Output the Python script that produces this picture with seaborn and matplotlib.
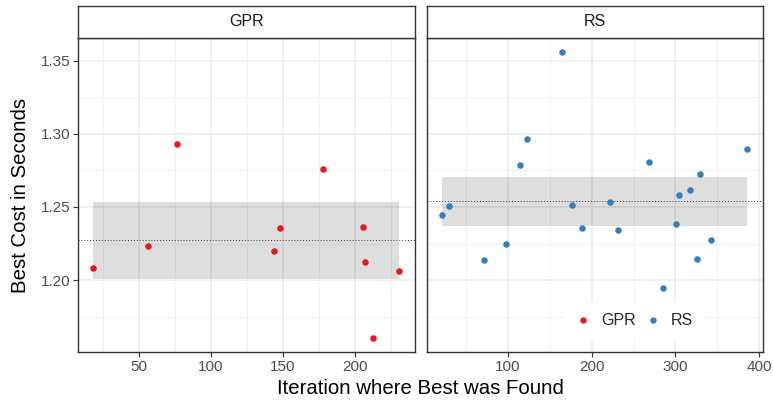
import numpy as np
import pandas as pd
import seaborn as sns
import matplotlib
matplotlib.use("Agg")
import matplotlib.pyplot as plt
from matplotlib.lines import Line2D
from matplotlib.ticker import MultipleLocator

# ---- data ----
gpr_iter = [18, 56, 76, 144, 148, 178, 206, 207, 213, 231]
gpr_cost = [1.2084, 1.2233, 1.2932, 1.2201, 1.2354, 1.2756, 1.2361, 1.2121, 1.1607, 1.2066]
rs_iter = [21, 30, 71, 98, 115, 123, 165, 176, 188, 222, 231, 268, 285, 301, 304,
           318, 326, 329, 342, 386]
rs_cost = [1.2443, 1.2505, 1.2135, 1.2247, 1.2788, 1.2963, 1.3560, 1.2514, 1.2358,
           1.2532, 1.2340, 1.2808, 1.1945, 1.2386, 1.2580, 1.2614, 1.2142, 1.2728,
           1.2276, 1.2899]
gpr_band = [1.2005, 1.2532]
rs_band = [1.2372, 1.2705]
methods = ["GPR", "RS"]
colors = ["#E41A1C", "#377EB8"]
y_ticks = [1.20, 1.25, 1.30, 1.35]
gpr_xticks = [50, 100, 150, 200]
rs_xticks = [100, 200, 300, 400]

df = pd.concat([
    pd.DataFrame({"iter": gpr_iter, "cost": gpr_cost, "method": "GPR"}),
    pd.DataFrame({"iter": rs_iter, "cost": rs_cost, "method": "RS"}),
])

sns.set_theme(style="white")
plt.rcParams["font.family"] = ["Liberation Sans", "DejaVu Sans"]

W, H = 773, 403
fig = plt.figure(figsize=(W / 100, H / 100), dpi=100)

panel_top, panel_bot = 37.5, 352
strip_top = 6
panels = [(78, 414.5), (426.5, 762.7)]

allc = df["cost"].values
yr = allc.max() - allc.min()
ylim = (allc.min() - 0.05 * yr, allc.max() + 0.05 * yr)

bands = {"GPR": gpr_band, "RS": rs_band}
xticks = {"GPR": gpr_xticks, "RS": rs_xticks}
minor = {"GPR": 25, "RS": 50}
border = "#333333"

axes = []
for i, (m, (x0, x1)) in enumerate(zip(methods, panels)):
    ax = fig.add_axes([x0 / W, 1 - panel_bot / H, (x1 - x0) / W, (panel_bot - panel_top) / H])
    sub = df[df["method"] == m]
    xr = sub["iter"].max() - sub["iter"].min()
    xmin, xmax = sub["iter"].min(), sub["iter"].max()
    ax.set_xlim(xmin - 0.05 * xr, xmax + 0.05 * xr)
    ax.set_ylim(*ylim)
    ax.set_axisbelow(True)
    ax.xaxis.set_major_locator(plt.FixedLocator(xticks[m]))
    ax.xaxis.set_minor_locator(MultipleLocator(minor[m]))
    ax.yaxis.set_major_locator(plt.FixedLocator(y_ticks))
    ax.yaxis.set_minor_locator(MultipleLocator(0.025))
    ax.grid(True, which="major", color="#EBEBEB", linewidth=1.1)
    ax.grid(True, which="minor", color="#F0F0F0", linewidth=0.6)
    lo, hi = bands[m]
    ax.fill_between([xmin, xmax], [lo, lo], [hi, hi], color="black", alpha=0.13,
                    linewidth=0, zorder=1)
    ax.axhline(sub["cost"].mean(), color="#333333", linestyle=(0, (1, 2)),
               linewidth=0.7, zorder=2)
    sns.scatterplot(data=sub, x="iter", y="cost", color=colors[i], s=22,
                    linewidth=0, ax=ax, legend=False, zorder=3)
    ax.set_xlabel("")
    ax.set_ylabel("")
    for s in ax.spines.values():
        s.set_color(border)
        s.set_linewidth(1.0)
    ax.tick_params(axis="both", which="major", length=3.5, width=0.8, color=border,
                   labelsize=11, labelcolor="#4D4D4D", pad=2,
                   bottom=True, left=(i == 0))
    ax.tick_params(which="minor", length=0)
    ax.set_xticklabels([str(v) for v in xticks[m]])
    if i == 0:
        ax.set_yticklabels([f"{v:.2f}" for v in y_ticks])
    else:
        ax.set_yticklabels([])
    # strip
    sax = fig.add_axes([x0 / W, 1 - panel_top / H, (x1 - x0) / W, (panel_top - strip_top) / H])
    sax.set_xticks([]); sax.set_yticks([])
    sax.set_facecolor("white")
    for s in sax.spines.values():
        s.set_color(border)
        s.set_linewidth(1.0)
    sax.text(0.5, 0.5, m, ha="center", va="center", fontsize=11.5, color="#1A1A1A",
             transform=sax.transAxes)
    axes.append(ax)

fig.text((78 + 762.7) / 2 / W, 1 - 389 / H, "Iteration where Best was Found",
         ha="center", va="center", fontsize=14.7, color="black")
fig.text(21 / W, 1 - 195 / H, "Best Cost in Seconds",
         ha="center", va="center", rotation=90, fontsize=14.7, color="black")

handles = [Line2D([0], [0], marker="o", linestyle="", markersize=4.6,
                  markerfacecolor=c, markeredgewidth=0) for c in colors]
leg = fig.legend(handles, methods, loc="center", ncol=2,
                 bbox_to_anchor=(634 / W, 1 - 320.7 / H), frameon=True,
                 fontsize=11.5, handletextpad=0.6, columnspacing=0.6,
                 handlelength=1.0, borderpad=0.7)
leg.get_frame().set_facecolor("white")
leg.get_frame().set_edgecolor("white")
leg.get_frame().set_alpha(1)
leg.get_frame().set_boxstyle("square", pad=0)

fig.savefig("out.png", dpi=100)
